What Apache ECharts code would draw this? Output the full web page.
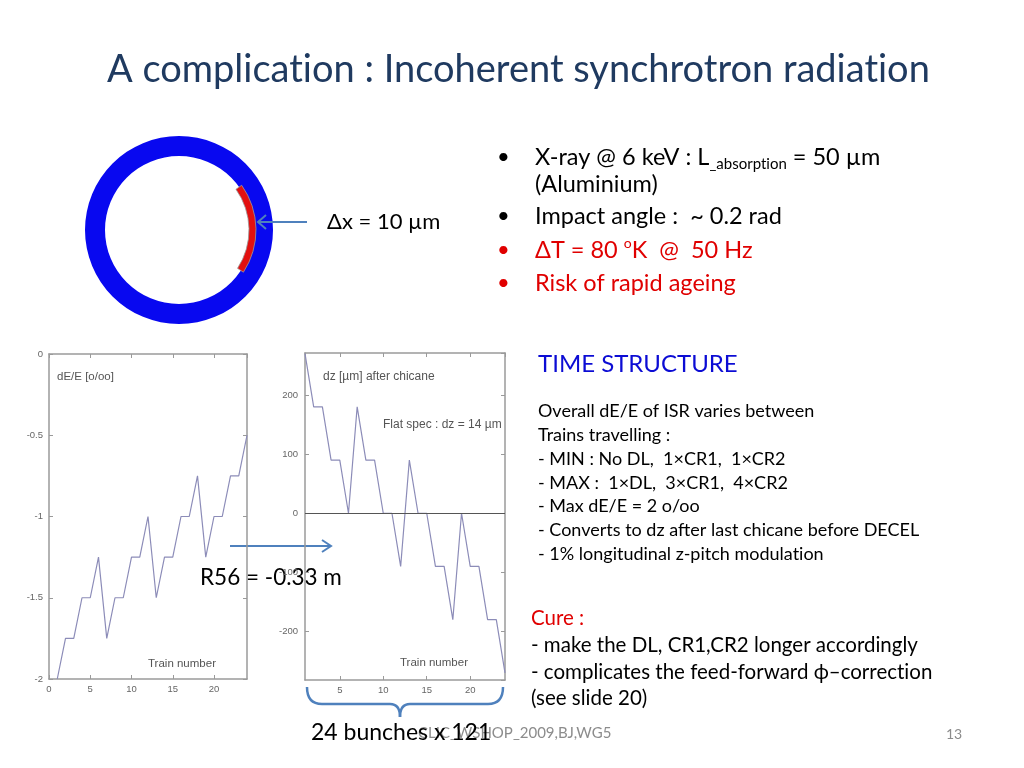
<!DOCTYPE html>
<html><head><meta charset="utf-8">
<script src="https://cdn.jsdelivr.net/npm/echarts@6/dist/echarts.min.js"></script>
<style>html,body{margin:0;padding:0;background:#fff}#c{width:1024px;height:768px}</style>
</head><body><div id="c"></div>
<script>
// ---- data ----
const trains = [1,2,3,4,5,6,7,8,9,10,11,12,13,14,15,16,17,18,19,20,21,22,23,24];
const dEE = [-2,-1.75,-1.75,-1.5,-1.5,-1.25,-1.75,-1.5,-1.5,-1.25,-1.25,-1,-1.5,-1.25,-1.25,-1,-1,-0.75,-1.25,-1,-1,-0.75,-0.75,-0.5];
const dz = [270,180,180,90,90,0,180,90,90,0,0,-90,90,0,0,-90,-90,-180,0,-90,-90,-180,-180,-270];
const leftXRange = [0, 24];
const leftYRange = [-2, 0];
const rightXRange = [1, 24];
const rightYRange = [-282, 271];

const FONT = 'Lato';
const AX = '#9a9a9a';
const LBL = {fontSize: 9.5, color: '#666', fontFamily: 'Liberation Sans'};

function axisBase(extra) {
  return Object.assign({
    type: 'value',
    axisLine: {show: true, onZero: false, lineStyle: {color: AX, width: 1.5}},
    axisTick: {show: true, inside: true, length: 4, lineStyle: {color: AX}},
    splitLine: {show: false}
  }, extra);
}

const chart = echarts.init(document.getElementById('c'));
const t = (x, y, text, size, color, extra) => ({
  type: 'text', x: x, y: y,
  style: Object.assign({text: text, fontSize: size, fontFamily: FONT, fill: color || '#000', verticalAlign: 'middle', align: 'left'}, extra || {})
});
// rich text made of same-style tokens (splits "t|i" so no ligature is formed)
const rt = (x, y, parts, size, color) => ({
  type: 'text', x: x, y: y,
  style: {text: parts.map(p => '{a|' + p + '}').join(''), fontFamily: FONT, fontSize: size, fill: color, verticalAlign: 'middle', align: 'left',
    rich: {a: {fontSize: size, fontFamily: FONT, color: color}}}
});
const small = (x, y, text, size) => ({
  type: 'text', x: x, y: y,
  style: {text: text, fontSize: size || 11.5, fontFamily: 'Liberation Sans', fill: '#555', verticalAlign: 'middle', align: 'left'}
});
const BR = {stroke: '#4f81bd', lineWidth: 2.5, fill: null};
const quad = (x1, y1, cx, cy, x2, y2) => ({type: 'bezierCurve', shape: {x1: x1, y1: y1, cpx1: cx, cpy1: cy, x2: x2, y2: y2}, style: BR});
const seg = (x1, y1, x2, y2) => ({type: 'line', shape: {x1: x1, y1: y1, x2: x2, y2: y2}, style: BR});

const option = {
  animation: false,
  backgroundColor: '#fff',
  grid: [
    {left: 49, top: 354, width: 198, height: 325},
    {left: 305, top: 353, width: 200, height: 327}
  ],
  xAxis: [
    axisBase({gridIndex: 0, position: 'bottom', min: leftXRange[0], max: leftXRange[1], interval: 5,
      axisLabel: Object.assign({margin: 5, showMaxLabel: false}, LBL)}),
    axisBase({gridIndex: 0, position: 'top', min: leftXRange[0], max: leftXRange[1], interval: 5, axisLabel: {show: false}}),
    axisBase({gridIndex: 1, position: 'bottom', min: rightXRange[0], max: rightXRange[1],
      axisLabel: Object.assign({margin: 5, showMinLabel: false, showMaxLabel: false}, LBL)}),
    axisBase({gridIndex: 1, position: 'top', min: rightXRange[0], max: rightXRange[1], axisLabel: {show: false}})
  ],
  yAxis: [
    axisBase({gridIndex: 0, position: 'left', min: leftYRange[0], max: leftYRange[1], interval: 0.5,
      axisLabel: Object.assign({margin: 6}, LBL)}),
    axisBase({gridIndex: 0, position: 'right', min: leftYRange[0], max: leftYRange[1], interval: 0.5, axisLabel: {show: false}}),
    axisBase({gridIndex: 1, position: 'left', min: rightYRange[0], max: rightYRange[1],
      axisLabel: Object.assign({margin: 7, showMinLabel: false, showMaxLabel: false}, LBL)}),
    axisBase({gridIndex: 1, position: 'right', min: rightYRange[0], max: rightYRange[1], axisLabel: {show: false}})
  ],
  series: [
    {type: 'line', xAxisIndex: 0, yAxisIndex: 0, symbol: 'none', silent: true,
      lineStyle: {color: '#8c8cb8', width: 1.2},
      data: trains.map((x, i) => [x, dEE[i]])},
    {type: 'line', xAxisIndex: 2, yAxisIndex: 2, symbol: 'none', silent: true,
      lineStyle: {color: '#8c8cb8', width: 1.2},
      data: trains.map((x, i) => [x, dz[i]]),
      markLine: {silent: true, symbol: 'none', label: {show: false},
        lineStyle: {color: '#555', width: 1, type: 'solid'}, data: [{yAxis: 0}]}}
  ],
  graphic: [
    rt(107, 70, ['A complicat', 'ion : Incoherent synchrotron radiat', 'ion'], 38, '#1f3a60'),
    {type: 'ring', shape: {cx: 179, cy: 230, r: 94, r0: 74}, style: {fill: '#0808f0'}},
    {type: 'sector', shape: {cx: 179, cy: 230, r0: 70, r: 77, startAngle: -0.62, endAngle: 0.58},
      style: {fill: '#e21010', stroke: '#9a9a9a', lineWidth: 0.8}},
    {type: 'line', shape: {x1: 307, y1: 222, x2: 258, y2: 222}, style: {stroke: '#4f81bd', lineWidth: 2}},
    {type: 'polyline', shape: {points: [[266, 215], [258, 222], [266, 229]]}, style: {stroke: '#4f81bd', lineWidth: 2, fill: null}},
    t(327, 222, 'Δx = 10 µm', 22, '#000'),
    // bullets
    t(497, 157, '•', 22, '#000'),
    {type: 'text', x: 535, y: 157, style: {
      text: '{n|X-ray @ 6 keV : L}{s|_absorpt}{s|ion}{n| = 50 µm}', fontFamily: FONT, verticalAlign: 'middle', fill: '#000',
      rich: {n: {fontSize: 23.5, fontFamily: FONT, lineHeight: 30}, s: {fontSize: 15, fontFamily: FONT, lineHeight: 30, verticalAlign: 'bottom'}}}},
    t(535, 184, '(Aluminium)', 23.5, '#000'),
    t(497, 216, '•', 22, '#000'),
    t(535, 216, 'Impact angle :  ~ 0.2 rad', 23.5, '#000'),
    t(497, 250, '•', 22, '#e00000'),
    {type: 'text', x: 535, y: 250, style: {
      text: '{n|ΔT = 80 }{p|o}{n|K  @  50 Hz}', fontFamily: FONT, verticalAlign: 'middle', fill: '#e00000',
      rich: {n: {fontSize: 23.5, fontFamily: FONT, lineHeight: 28, color: '#e00000'}, p: {fontSize: 14, fontFamily: FONT, lineHeight: 28, verticalAlign: 'top', color: '#e00000'}}}},
    t(497, 283, '•', 22, '#e00000'),
    t(535, 283, 'Risk of rapid ageing', 23.5, '#e00000'),
    // time structure
    t(538, 364, 'TIME STRUCTURE', 24, '#0c0cd4'),
    t(538, 411, 'Overall dE/E of ISR varies between', 18, '#000'),
    t(538, 435, 'Trains travelling :', 18, '#000'),
    t(538, 459, '- MIN : No DL,  1×CR1,  1×CR2', 18, '#000'),
    t(538, 483, '- MAX :  1×DL,  3×CR1,  4×CR2', 18, '#000'),
    t(538, 506, '- Max dE/E = 2 o/oo', 18, '#000'),
    t(538, 530, '- Converts to dz after last chicane before DECEL', 18, '#000'),
    rt(538, 554, ['- 1% longitudinal z-pitch modulat', 'ion'], 18, '#000'),
    // cure
    t(531, 618, 'Cure :', 20.5, '#e00000'),
    t(531, 645, '- make the DL, CR1,CR2 longer accordingly', 20.5, '#000'),
    rt(531, 672, ['- complicates the feed-forward ϕ–correct', 'ion'], 20.5, '#000'),
    t(531, 698, '(see slide 20)', 20.5, '#000'),
    // chart annotations
    small(57, 377, 'dE/E [o/oo]', 11.5),
    small(148, 664, 'Train number', 11.5),
    small(323, 377, 'dz [µm] after chicane', 12),
    small(383, 425, 'Flat spec : dz = 14 µm', 12),
    small(400, 663, 'Train number', 11.5),
    // R56 arrow
    {type: 'line', shape: {x1: 230, y1: 546, x2: 331, y2: 546}, style: {stroke: '#4f81bd', lineWidth: 2}},
    {type: 'polyline', shape: {points: [[322, 540], [331, 546], [322, 552]]}, style: {stroke: '#4f81bd', lineWidth: 2, fill: null}},
    t(200, 578, 'R56 = -0.33 m', 22.5, '#000'),
    // brace
    quad(307, 687, 307, 704, 322, 704),
    seg(322, 704, 390, 704),
    quad(390, 704, 400, 704, 400, 717),
    quad(400, 717, 400, 704, 410, 704),
    seg(410, 704, 488, 704),
    quad(488, 704, 503, 704, 503, 687),
    // footer
    t(418, 733, 'CLIC_WSHOP_2009,BJ,WG5', 15, '#8c8c8c'),
    t(946, 734, '13', 14, '#8c8c8c'),
    t(311, 733, '24 bunches x 121', 23, '#000')
  ]
};
chart.setOption(option);
</script></body></html>
